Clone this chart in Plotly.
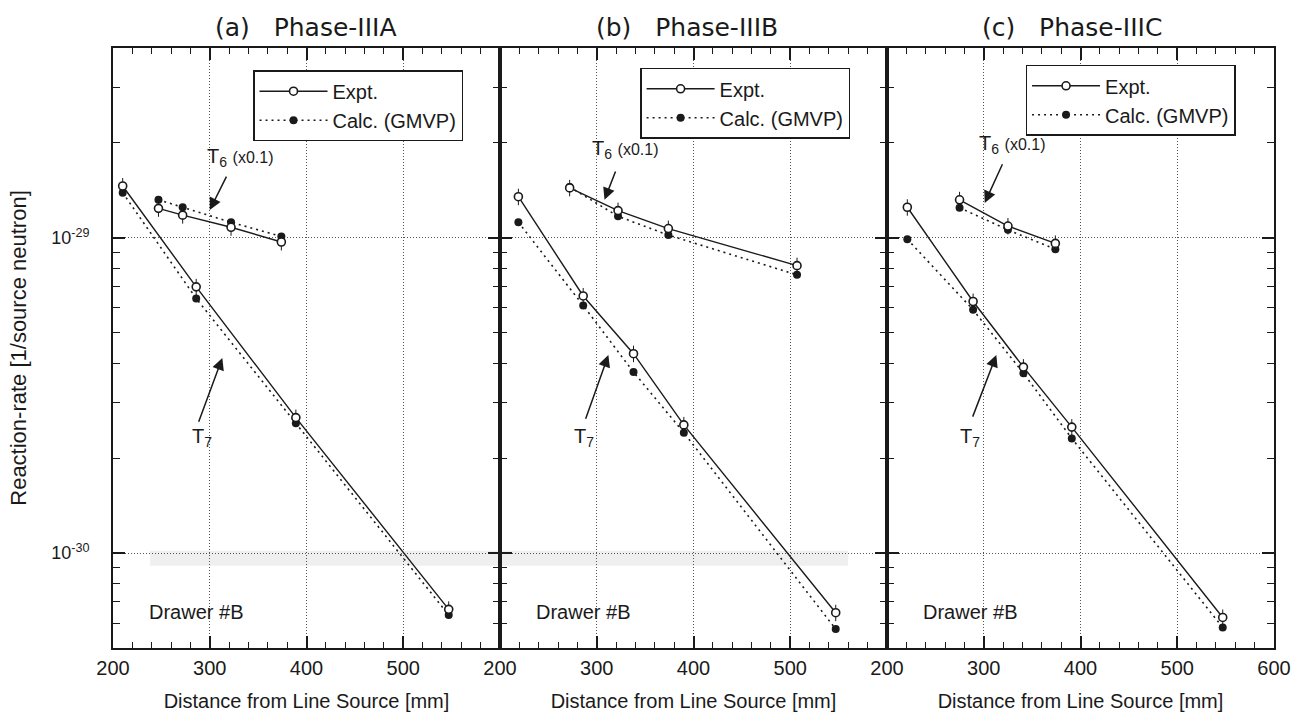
import numpy as np
import plotly.graph_objects as go
from plotly.subplots import make_subplots

# ---- data: distance from line source [mm] and reaction rates [1/source neutron]
# Phase-IIIA
a_t7_x = [210, 286, 389, 547]
a_t7_expt = [1.46e-29, 6.99e-30, 2.69e-30, 6.63e-31]
a_t7_calc = [1.39e-29, 6.42e-30, 2.58e-30, 6.36e-31]
a_t6_x = [247, 272, 322, 374]
a_t6_expt = [1.24e-29, 1.18e-29, 1.08e-29, 9.7e-30]
a_t6_calc = [1.32e-29, 1.25e-29, 1.12e-29, 1.01e-29]

# Phase-IIIB
b_t7_x = [219, 286, 338, 390, 547]
b_t7_expt = [1.35e-29, 6.54e-30, 4.29e-30, 2.55e-30, 6.47e-31]
b_t7_calc = [1.12e-29, 6.10e-30, 3.75e-30, 2.41e-30, 5.74e-31]
b_t6_x = [272, 322, 374, 507]
b_t6_expt = [1.44e-29, 1.22e-29, 1.07e-29, 8.16e-30]
b_t6_calc = [1.45e-29, 1.17e-29, 1.02e-29, 7.63e-30]

# Phase-IIIC
c_t7_x = [221, 289, 341, 391, 547]
c_t7_expt = [1.25e-29, 6.28e-30, 3.89e-30, 2.51e-30, 6.25e-31]
c_t7_calc = [9.9e-30, 5.91e-30, 3.72e-30, 2.31e-30, 5.81e-31]
c_t6_x = [275, 325, 374]
c_t6_expt = [1.32e-29, 1.09e-29, 9.6e-30]
c_t6_calc = [1.245e-29, 1.06e-29, 9.2e-30]

panel_titles = ["(a)\u00a0\u00a0\u00a0Phase-IIIA", "(b)\u00a0\u00a0\u00a0Phase-IIIB", "(c)\u00a0\u00a0\u00a0Phase-IIIC"]
x_tick_vals = [[200, 300, 400, 500], [200, 300, 400, 500], [200, 300, 400, 500, 600]]
y_tick_vals = [1e-30, 1e-29]
y_tick_text = ["10<sup>-30</sup>", "10<sup>-29</sup>"]

panels = [
    (a_t7_x, a_t7_expt, a_t7_calc, a_t6_x, a_t6_expt, a_t6_calc),
    (b_t7_x, b_t7_expt, b_t7_calc, b_t6_x, b_t6_expt, b_t6_calc),
    (c_t7_x, c_t7_expt, c_t7_calc, c_t6_x, c_t6_expt, c_t6_calc),
]

FONT = "Liberation Sans, Arial, Helvetica, sans-serif"
TITLE_FONT = "DejaVu Sans, sans-serif"
INK = "#1a1a1a"

fig = make_subplots(rows=1, cols=3, horizontal_spacing=0)

expt_line = dict(color=INK, width=1.4)
calc_line = dict(color=INK, width=1.6, dash="2px,4px")
expt_marker = dict(symbol="circle", size=8, color="white", line=dict(color=INK, width=1.6))
calc_marker = dict(symbol="circle", size=8, color=INK, line=dict(color=INK, width=0))
err = dict(type="percent", value=6, color=INK, thickness=1, width=0)

for i, (t7x, t7e, t7c, t6x, t6e, t6c) in enumerate(panels):
    col = i + 1
    leg = "legend" if i == 0 else f"legend{i + 1}"
    for xs, ye, yc, show in ((t7x, t7e, t7c, True), (t6x, t6e, t6c, False)):
        fig.add_trace(go.Scatter(x=xs, y=yc, mode="lines+markers", name="Calc. (GMVP)",
                                 line=calc_line, marker=calc_marker, legend=leg,
                                 showlegend=show, legendrank=2), row=1, col=col)
        fig.add_trace(go.Scatter(x=xs, y=ye, mode="lines+markers", name="Expt.",
                                 line=expt_line, marker=expt_marker, error_y=err, legend=leg,
                                 showlegend=show, legendrank=1), row=1, col=col)

y_lo, y_hi = np.log10(5e-31), np.log10(4e-29)
minor_y = [k * 10.0 ** e for e in (-31, -30, -29) for k in range(2, 10)]

for i in range(3):
    fig.update_xaxes(
        row=1, col=i + 1, range=[200, 600], tickmode="array", tickvals=x_tick_vals[i],
        ticks="inside", ticklen=12, tickwidth=1.5, tickcolor=INK,
        minor=dict(dtick=20, tick0=200, ticks="inside", ticklen=6, tickwidth=1.3,
                   tickcolor=INK, showgrid=False),
        showline=True, linewidth=2, linecolor=INK, mirror="ticks",
        showgrid=True, gridcolor="#555", gridwidth=1, griddash="1px,2px",
        tickfont=dict(size=20, color=INK, family=FONT), ticklabelstandoff=1,
        title=dict(text="Distance from Line Source [mm]", standoff=22,
                   font=dict(size=20, color=INK, family=FONT)),
        zeroline=False, automargin=False,
    )
    fig.update_yaxes(
        row=1, col=i + 1, type="log", range=[y_lo, y_hi], tickmode="array",
        tickvals=y_tick_vals, ticktext=y_tick_text, showticklabels=(i == 0),
        ticks="inside", ticklen=12, tickwidth=1.5, tickcolor=INK,
        minor=dict(tickmode="array", tickvals=minor_y, ticks="inside", ticklen=7,
                   tickwidth=1.3, tickcolor=INK, showgrid=False),
        showline=True, linewidth=2, linecolor=INK, mirror="ticks",
        showgrid=True, gridcolor="#555", gridwidth=1, griddash="1px,2px",
        tickfont=dict(size=18, color=INK, family=FONT), ticklabelstandoff=18,
        zeroline=False, automargin=False,
    )
fig.update_yaxes(row=1, col=1, title=dict(text="Reaction-rate [1/source neutron]", standoff=18,
                                          font=dict(size=22, color=INK, family=FONT)))

# legends, one per panel
legend_pos = [(0.1206, 0.963), (0.454, 0.967), (0.786, 0.972)]
legend_style = dict(bgcolor="white", bordercolor=INK, borderwidth=1.5, xanchor="left",
                    yanchor="top", itemwidth=68, tracegroupgap=0,
                    font=dict(size=20, color=INK, family=FONT))
fig.update_layout(
    legend=dict(x=legend_pos[0][0], y=legend_pos[0][1], **legend_style),
    legend2=dict(x=legend_pos[1][0], y=legend_pos[1][1], **legend_style),
    legend3=dict(x=legend_pos[2][0], y=legend_pos[2][1], **legend_style),
)

annotations = []
title_x = [0.166, 0.494, 0.826]
for i in range(3):
    annotations.append(dict(xref="paper", yref="paper", x=title_x[i], y=1.035, text=panel_titles[i],
                            showarrow=False, xanchor="center", yanchor="middle",
                            font=dict(size=25, color=INK, family=TITLE_FONT)))

# curve labels and pointer arrows: (label x, label y, head x, head y, tail x, tail y)
t6_labels = [(295, 1.80e-29, 300, 1.225e-29, 318, 1.58e-29),
             (293, 1.90e-29, 308, 1.32e-29, 320, 1.64e-29),
             (293, 1.98e-29, 301, 1.29e-29, 320, 1.73e-29)]
t7_labels = [(280, 2.33e-30, 313, 4.16e-30, 288, 2.58e-30),
             (274, 2.33e-30, 312, 4.25e-30, 288, 2.64e-30),
             (273, 2.33e-30, 313, 4.25e-30, 288, 2.68e-30)]
for i in range(3):
    xr = "x" if i == 0 else f"x{i + 1}"
    yr = "y" if i == 0 else f"y{i + 1}"
    for lx, ly, hx, hy, tx, ty, txt in (
        t6_labels[i] + ("T<sub>6</sub> <span style='font-size:16px'>(x0.1)</span>",),
        t7_labels[i] + ("T<sub>7</sub>",),
    ):
        annotations.append(dict(xref=xr, yref=yr, x=lx, y=np.log10(ly), text=txt,
                                showarrow=False, xanchor="left", yanchor="middle",
                                font=dict(size=20, color=INK, family=FONT)))
        annotations.append(dict(xref=xr, yref=yr, x=hx, y=np.log10(hy), ax=tx, ay=np.log10(ty),
                                axref=xr, ayref=yr, text="", showarrow=True, arrowhead=2,
                                arrowsize=1.6, arrowwidth=1.5, arrowcolor=INK, standoff=0))
    annotations.append(dict(xref=xr, yref=yr, x=286, y=np.log10(6.5e-31), text="Drawer #B",
                            showarrow=False, xanchor="center", yanchor="middle",
                            font=dict(size=20, color=INK, family=FONT)))

fig.update_layout(
    annotations=annotations,
    width=1297, height=712,
    margin=dict(l=113, r=23, t=48, b=64, autoexpand=False),
    paper_bgcolor="white", plot_bgcolor="rgba(0,0,0,0)",
    font=dict(family=FONT, color=INK),
    shapes=[dict(type="rect", xref="paper", yref="paper", x0=0.032, x1=0.633, y0=0.137, y1=0.162,
                 fillcolor="#efefef", line=dict(width=0), layer="below")],
)

fig.write_html("out.html")
